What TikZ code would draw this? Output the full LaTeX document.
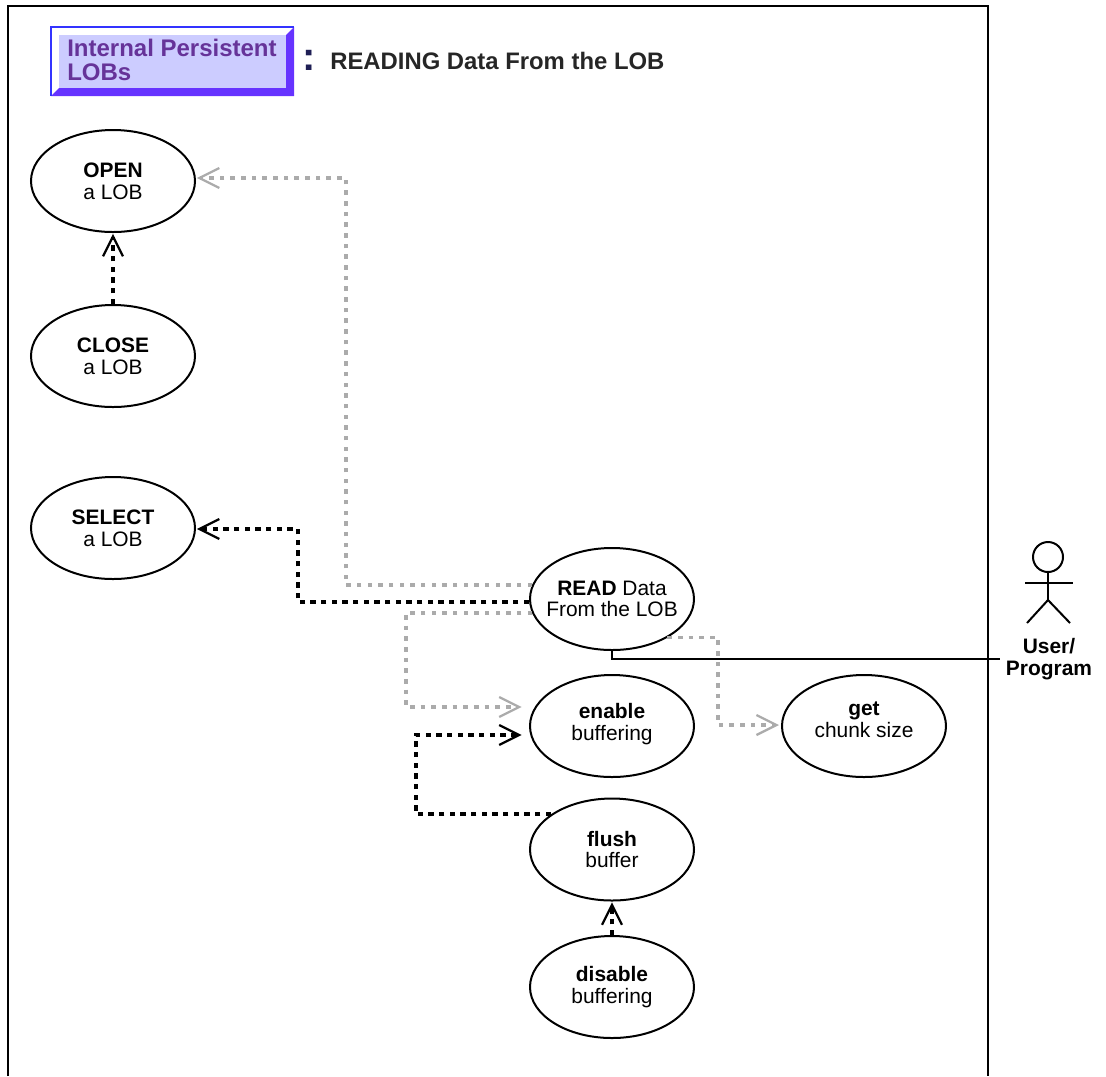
\documentclass[tikz,border=0pt]{standalone}
\usepackage{fontspec}
\setmainfont{Liberation Sans}
\usepackage{xcolor}
\definecolor{lobfill}{HTML}{CCCCFF}
\definecolor{lobedge}{HTML}{6633FF}
\definecolor{lobline}{HTML}{3333FF}
\definecolor{lobtext}{HTML}{663399}
\definecolor{lobnavy}{HTML}{1F1F55}
\definecolor{flowgray}{HTML}{ABABAB}
\usetikzlibrary{arrows.meta}
\usetikzlibrary{shapes.geometric}
\newcommand{\ufont}{\fontsize{15.7}{16.3}\selectfont}
\tikzset{
  usecase/.style={draw,ellipse,line width=1.5pt,minimum width=123pt,minimum height=76.5pt,inner sep=-12pt,align=center,font=\ufont},
  flow/.style={line width=3pt,dash pattern=on 4pt off 4pt,arrows={-{Straight Barb[length=15pt,width=15pt,line width=1.7pt]}}},
  blackflow/.style={flow,black},
  grayflow/.style={flow,flowgray,line width=2.5pt,dash pattern=on 3.4pt off 4.6pt},
}
\begin{document}
\begin{tikzpicture}[x=0.75pt,y=-0.75pt]
  \useasboundingbox (0,0) rectangle (1106,1076);
  \draw[line width=2.2pt] (8,1076) -- (8,6) -- (988,6) -- (988,1076);
  \fill[white] (51,27) rectangle (294,96);
  \fill[lobedge] (294,27) -- (286,35) -- (286,88) -- (59,88) -- (51,96) -- (294,96) -- cycle;
  \draw[lobline,line width=0.9pt] (51,96) -- (51,27) -- (294,27);
  \node[fill=lobfill,minimum width=170pt,minimum height=39.75pt,inner sep=0pt] (lobbox) at (172.5,61.5) {};
  \node[anchor=west,align=left,text=lobtext,inner sep=0pt,font=\fontsize{18}{17.8}\selectfont\bfseries] (lobtitle) at (67,60) {Internal Persistent\\LOBs};
  \node[anchor=center,text=lobnavy,font=\fontsize{30}{30}\selectfont\bfseries,inner sep=0pt] (colon) at (309,60) {:};
  \node[anchor=west,inner sep=0pt,font=\fontsize{17.9}{20}\selectfont\bfseries,text=black!85] (heading) at (330,61) {READING Data From the LOB};

  \node[usecase] (open) at (113,181) {\textbf{OPEN}\\a LOB};
  \node[usecase] (close) at (113,356) {\textbf{CLOSE}\\a LOB};
  \node[usecase] (select) at (113,528) {\textbf{SELECT}\\a LOB};
  \node[usecase] (read) at (612,599) {\textbf{READ} Data\\From the LOB};
  \node[usecase,text depth=6pt] (enable) at (612,726) {\textbf{enable}\\buffering};
  \node[usecase,text depth=10pt] (get) at (864,726) {\textbf{get}\\chunk size};
  \node[usecase] (flush) at (612,849.5) {\textbf{flush}\\buffer};
  \node[usecase] (disable) at (612,987) {\textbf{disable}\\buffering};

  \coordinate (openbend) at (346,178);
  \coordinate (selectbend) at (298,529);
  \coordinate (enablebend) at (406,707);
  \coordinate (getbend) at (718,725);
  \coordinate (flushbend) at (416,735);
  \draw[grayflow,shorten >=0.6pt] (read.170) -| (openbend) -- (openbend -| open.east);
  \draw[blackflow,shorten >=0.6pt] (read.182) -| (selectbend) -- (selectbend -| select.east);
  \draw[grayflow,shorten >=5.5pt] (read.190) -| (enablebend) -- (enablebend -| enable.west);
  \draw[grayflow,shorten >=1.5pt] (read.-35) -| (getbend) -- (getbend -| get.west);
  \draw[blackflow,shorten >=5.5pt] (flush.150) -| (flushbend) -- (flushbend -| enable.west);
  \draw[blackflow,shorten >=0.6pt] (close.north) -- (open.south);
  \draw[blackflow,shorten >=0.6pt] (disable.north) -- (flush.south);

  \coordinate (actorend) at (1000,659);
  \draw[line width=0.9pt] (read.south) |- (actorend);

  \node[draw,circle,line width=1.5pt,minimum size=22.5pt,inner sep=0pt] (head) at (1048,557) {};
  \coordinate (hip) at (1048,600);
  \coordinate (armleft) at (1025,583);
  \coordinate (armright) at (1073,583);
  \coordinate (footleft) at (1027,623);
  \coordinate (footright) at (1070,623);
  \draw[line width=1.5pt] (head.south) -- (hip);
  \draw[line width=1.5pt] (armleft) -- (armright);
  \draw[line width=1.5pt] (footleft) -- (hip) -- (footright);
  \node[align=center,inner sep=0pt,font=\fontsize{15.7}{16.8}\selectfont\bfseries] (user) at (1049,659) {User/\\Program};
\end{tikzpicture}
\end{document}
